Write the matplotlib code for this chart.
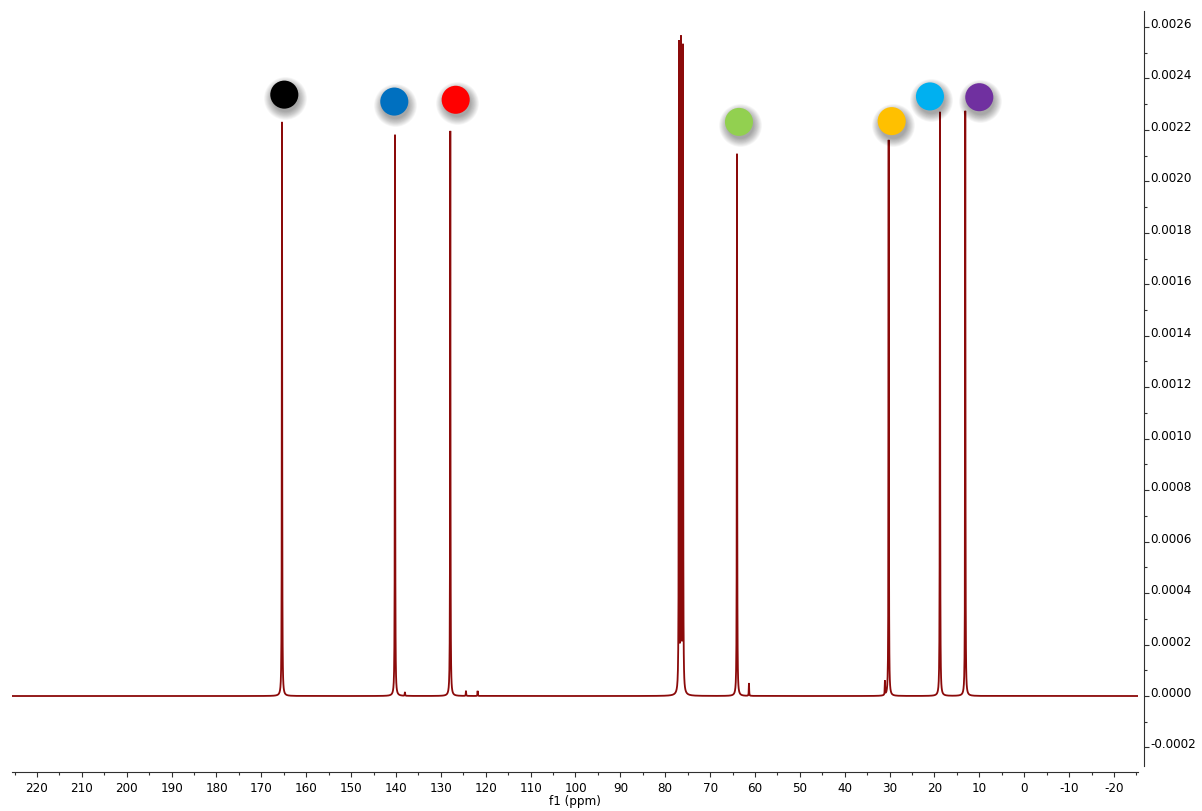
import numpy as np
import matplotlib
matplotlib.use("Agg")
import matplotlib.pyplot as plt
from matplotlib.ticker import FixedLocator, FixedFormatter, MultipleLocator
from matplotlib.transforms import offset_copy

plt.rcParams["font.family"] = ["DejaVu Sans"]
plt.rcParams["font.stretch"] = "condensed"
plt.rcParams["axes.unicode_minus"] = False

# 13C peak list: shift (ppm) and intensity
peak_ppm = [165.40, 140.22, 138.00, 127.90, 124.40, 121.80,
            76.94, 76.49, 76.05, 64.01, 61.34, 31.04, 30.21, 18.78, 13.14]
peak_height = [0.002231, 0.002181, 0.000015, 0.002196, 0.000020, 0.000020,
               0.002517, 0.002516, 0.002502, 0.002107, 0.000050, 0.000054,
               0.002161, 0.002270, 0.002274]
peak_hwhm = 0.045  # ppm

# assignment markers
marker_ppm = [164.89, 140.38, 126.70, 63.57, 29.54, 21.01, 10.02]
marker_level = [0.002337, 0.002310, 0.002317, 0.002231, 0.002234, 0.002330, 0.002327]
marker_color = ["#000000", "#0070C0", "#FF0000", "#92D050", "#FFC000", "#00B0F0", "#7030A0"]

x_major = list(range(220, -30, -10))
y_major = [round(-0.0002 + 0.0002 * i, 4) for i in range(15)]

# spectrum built from the Lorentzian lines of the peak list
ppm = np.arange(-25.4, 225.7, 0.005)
spec = np.zeros_like(ppm)
for c, h in zip(peak_ppm, peak_height):
    spec += h * peak_hwhm**2 / ((ppm - c) ** 2 + peak_hwhm**2)

W, H = 1202, 812
fig = plt.figure(figsize=(W / 100, H / 100), dpi=100)
ax = fig.add_axes([12 / W, 1 - 767 / H, (1138 - 12) / W, (767 - 12) / H])

ax.plot(ppm, spec, color="#8B0A0A", lw=1.3, solid_joinstyle="miter")

ax.set_xlim(225.57, -25.35)
ax.set_ylim(-0.000272, 0.002662)

# assignment dots with soft drop shadow
shadow_tr = offset_copy(ax.transData, fig=fig, x=1, y=-3.5, units="dots")
for d in np.linspace(31, 19, 16):
    ax.scatter(marker_ppm, marker_level, s=d**2, color="black", alpha=0.022,
               linewidths=0, transform=shadow_tr, zorder=4)
ax.scatter(marker_ppm, marker_level, s=20.2**2, c=marker_color,
           linewidths=0, zorder=5)

# axes styling
for side in ("left", "top"):
    ax.spines[side].set_visible(False)
ax.spines["right"].set_position(("outward", 4))
ax.spines["bottom"].set_position(("outward", 4.3))
for side in ("right", "bottom"):
    ax.spines[side].set_color("#303030")
    ax.spines[side].set_linewidth(0.8)

ax.xaxis.set_major_locator(FixedLocator(x_major))
ax.xaxis.set_major_formatter(FixedFormatter([str(v) for v in x_major]))
ax.xaxis.set_minor_locator(MultipleLocator(5))
ax.tick_params(axis="x", which="major", direction="out", length=3.8, width=0.8,
               color="#303030", labelsize=9.5, pad=3)
ax.tick_params(axis="x", which="minor", direction="out", length=2.0, width=0.8,
               color="#303030")

ax.yaxis.tick_right()
ax.yaxis.set_major_locator(FixedLocator(y_major))
ax.yaxis.set_major_formatter(FixedFormatter([f"{v:.4f}" for v in y_major]))
ax.yaxis.set_minor_locator(MultipleLocator(0.0001))
ax.tick_params(axis="y", which="major", direction="out", length=3.8, width=0.8,
               color="#303030", labelsize=9.5, pad=1)
ax.tick_params(axis="y", which="minor", direction="out", length=2.0, width=0.8,
               color="#303030")
for t in ax.yaxis.get_major_ticks():
    t.label2.set_verticalalignment("baseline")

ax.set_xlabel("f1 (ppm)", fontsize=9.5, labelpad=0)

fig.savefig("out.png", dpi=100, facecolor="white")
